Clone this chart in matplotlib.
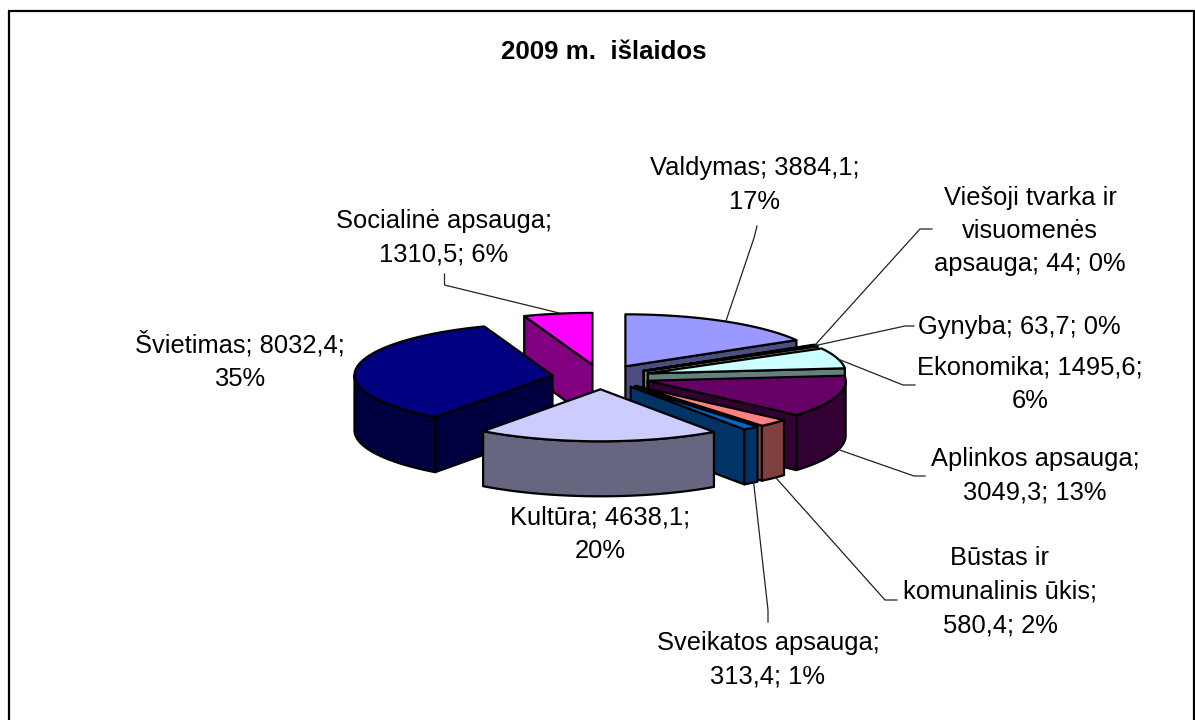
import numpy as np
import matplotlib
matplotlib.use("Agg")
import matplotlib.pyplot as plt
from matplotlib.patches import Polygon, Rectangle

plt.rcParams['font.family'] = ['Liberation Sans', 'DejaVu Sans']

# ---- data ----
title = "2009 m.  išlaidos"
categories = ["Valdymas", "Viešoji tvarka ir visuomenės apsauga", "Gynyba", "Ekonomika",
              "Aplinkos apsauga", "Būstas ir komunalinis ūkis", "Sveikatos apsauga",
              "Kultūra", "Švietimas", "Socialinė apsauga"]
values = [3884.1, 44, 63.7, 1495.6, 3049.3, 580.4, 313.4, 4638.1, 8032.4, 1310.5]
top_colors = ["#9999FF", "#993366", "#FFFFCC", "#CCFFFF", "#660066",
              "#FF8080", "#0066CC", "#CCCCFF", "#000080", "#FF00FF"]
side_colors = ["#4D4D80", "#4D1A33", "#808066", "#668080", "#330033",
               "#804040", "#003366", "#666680", "#000040", "#800080"]
labels = ["Valdymas; 3884,1;\n17%",
          "Viešoji tvarka ir\nvisuomenės\napsauga; 44; 0%",
          "Gynyba; 63,7; 0%",
          "Ekonomika; 1495,6;\n6%",
          "Aplinkos apsauga;\n3049,3; 13%",
          "Būstas ir\nkomunalinis ūkis;\n580,4; 2%",
          "Sveikatos apsauga;\n313,4; 1%",
          "Kultūra; 4638,1;\n20%",
          "Švietimas; 8032,4;\n35%",
          "Socialinė apsauga;\n1310,5; 6%"]
label_x = [755, 1030, 1019, 1030, 1035, 1000, 768, 600, 240, 444]
label_y = [185, 231, 327, 384.5, 476, 591.5, 660, 534, 361, 238]
# leader-line elbows (label end), None = no leader
leader_ends = [[(754, 238), (757, 226)],
               [(920, 229), (932, 229)],
               [(905, 326), (914, 326)],
               [(903, 385), (915, 385)],
               [(914, 476), (925, 476)],
               [(885, 600), (897, 600)],
               [(768, 610), (768, 622)],
               None, None,
               [(444.5, 285), (444.5, 274)]]
leader_bottom = [False, False, False, False, True, True, True, False, False, False]
leader_frac = [0.51, 0.6, 0.1, 0.55, 0.45, 0.4, 0.3, 0.5, 0.5, 0.55]

# ---- pie geometry (pixels) ----
CX, CY = 601, 377
RX, RY = 198, 52
EXPLODE_X, EXPLODE_Y = 49, 12.3
DEPTH = 55
LW = 1.6

fig = plt.figure(figsize=(11.95, 7.2), dpi=100)
ax = fig.add_axes([0, 0, 1, 1])
ax.set_xlim(0, 1195)
ax.set_ylim(720, 0)
ax.axis("off")

ax.add_patch(Rectangle((9, 11), 1185, 760, fc="white", ec="black", lw=1.6, zorder=0))

vals = np.array(values, dtype=float)
edges = np.concatenate([[0], np.cumsum(vals)]) / vals.sum() * 2 * np.pi


def apex_of(i):
    mid = (edges[i] + edges[i + 1]) / 2
    return CX + EXPLODE_X * np.sin(mid), CY - EXPLODE_Y * np.cos(mid)


def rim(i, t):
    ax0, ay0 = apex_of(i)
    return ax0 + RX * np.sin(t), ay0 - RY * np.cos(t)


def face(pts, color, z):
    ax.add_patch(Polygon(pts, closed=True, fc=color, ec="black", lw=LW,
                         joinstyle="round", zorder=z))


order = sorted(range(len(vals)), key=lambda i: apex_of(i)[1])
for rank, i in enumerate(order):
    z = 2 + rank
    a, b = edges[i], edges[i + 1]
    px, py = apex_of(i)
    # radial faces that look toward the viewer
    if a > np.pi:
        x0, y0 = rim(i, a)
        face([(px, py), (x0, y0), (x0, y0 + DEPTH), (px, py + DEPTH)], side_colors[i], z)
    if b < np.pi:
        x1, y1 = rim(i, b)
        face([(px, py), (x1, y1), (x1, y1 + DEPTH), (px, py + DEPTH)], side_colors[i], z)
    # outer wall, front half only
    lo, hi = max(a, np.pi / 2), min(b, 3 * np.pi / 2)
    if hi > lo:
        t = np.linspace(lo, hi, 80)
        xs, ys = rim(i, t)
        pts = np.r_[np.c_[xs, ys], np.c_[xs[::-1], ys[::-1] + DEPTH]]
        face(pts, side_colors[i], z)
    # top
    t = np.linspace(a, b, 120)
    xs, ys = rim(i, t)
    face(np.r_[[(px, py)], np.c_[xs, ys]], top_colors[i], z)

# leader lines, anchored on the slice rims
for i, ends in enumerate(leader_ends):
    if ends is None:
        continue
    t = edges[i] + leader_frac[i] * (edges[i + 1] - edges[i])
    x, y = rim(i, t)
    if leader_bottom[i]:
        y += DEPTH
    pts = [(x, y)] + ends
    ax.plot([p[0] for p in pts], [p[1] for p in pts], color="#222222", lw=0.9,
            zorder=30, solid_joinstyle="miter")

FS = 18.4
ax.text(603.5, 52, title, fontsize=18.6, fontweight="bold", ha="center", va="center", color="black")
for lab, x, y in zip(labels, label_x, label_y):
    ax.text(x, y, lab, fontsize=FS, ha="center", va="center", multialignment="center",
            linespacing=1.5, color="black", zorder=40)

fig.savefig("out.png", dpi=100)
